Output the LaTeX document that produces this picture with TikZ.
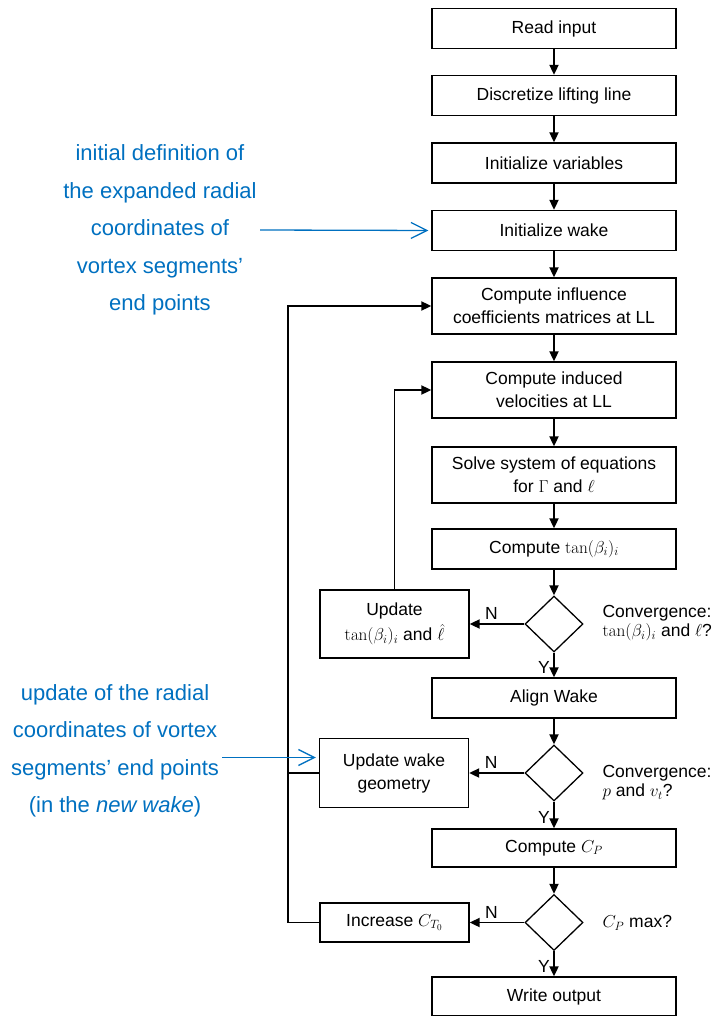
\documentclass[tikz,border=0pt]{standalone}
\usepackage[no-math]{fontspec}
\setmainfont{Liberation Sans}
\usetikzlibrary{positioning,arrows.meta,shapes.geometric}
\definecolor{noteblue}{RGB}{0,112,192}

\begin{document}
\begin{tikzpicture}[x=1pt,y=-1pt, every node/.style={font=\fontsize{17.5}{23}\selectfont},
    box/.style={draw,line width=1.3pt,minimum width=244pt,minimum height=40pt,align=center,inner sep=2pt},
    sidebox/.style={draw,line width=1.3pt,minimum width=149pt,align=center,inner sep=2pt},
    decision/.style={draw,diamond,line width=1.3pt,minimum width=58pt,minimum height=56pt,inner sep=0pt},
    flow/.style={-{Triangle[length=10pt,width=9pt]},line width=1.8pt},
    note/.style={font=\fontsize{22}{37.5}\selectfont,text=noteblue,align=center},
    notearrow/.style={-{Straight Barb[length=16pt,width=16pt,line width=1.3pt]},draw=noteblue,line width=1.3pt,shorten >=3pt}]
  \useasboundingbox (0,0) rectangle (718,1016);
  \node[box] at (554,28.5) (read) {Read input};
  \node[box] at (554,95.5) (lline) {Discretize lifting line};
  \node[box] at (554,163) (initvar) {Initialize variables};
  \node[box] at (554,230.5) (initwake) {Initialize wake};
  \node[box,minimum height=56pt] at (554,306) (infl) {Compute influence\\coefficients matrices at LL};
  \node[box,minimum height=56pt] at (554,390) (indvel) {Compute induced\\velocities at LL};
  \node[box,minimum height=56pt] at (554,475) (solve) {Solve system of equations\\for $\Gamma$ and $\ell$};
  \node[box] at (554,549) (tanb) {Compute $\tan(\beta_i)_i$};
  \node[decision] at (554,624) (convtan) {};
  \node[sidebox,minimum height=68pt,font=\fontsize{17.5}{25}\selectfont] at (394.5,624) (updtan) {Update\\$\tan(\beta_i)_i$ and $\hat{\ell}$};
  \node[box] at (554,698) (alignwake) {Align Wake};
  \node[decision] at (554,773) (convwake) {};
  \node[sidebox,minimum height=69pt] at (394,773) (updwake) {Update wake\\geometry};
  \node[box,minimum height=38pt] at (554,848) (cp) {Compute $C_P$};
  \node[decision] at (554,922.5) (cpmax) {};
  \node[sidebox,minimum height=39pt] at (394.5,922.5) (incct) {Increase $C_{T_0}$};
  \node[box,minimum height=39pt] at (554,996.5) (write) {Write output};

  \node[anchor=west,align=left,font=\fontsize{17.5}{19}\selectfont] at (599,623) (lbltan) {Convergence:\\$\tan(\beta_i)_i$ and $\ell$?};
  \node[anchor=west,align=left,font=\fontsize{17.5}{19}\selectfont] at (599,783) (lblwake) {Convergence:\\$p$ and $v_t$?};
  \node[anchor=west] at (599,923) (lblcp) {$C_P$ max?};

  \node[note] at (160,230) (notewake) {initial definition of\\the expanded radial\\coordinates of\\vortex segments'\\end points};
  \node[note] at (115,751) (noteupd) {update of the radial\\coordinates of vortex\\segments' end points\\(in the \textit{new wake})};

  \draw[flow] (read) -- (lline);
  \draw[flow] (lline) -- (initvar);
  \draw[flow] (initvar) -- (initwake);
  \draw[flow] (initwake) -- (infl);
  \draw[flow] (infl) -- (indvel);
  \draw[flow] (indvel) -- (solve);
  \draw[flow] (solve) -- (tanb);
  \draw[flow] (tanb) -- (convtan);
  \draw[flow] (convtan) -- node[above,pos=0.6]{N} (updtan);
  \draw[flow] (convtan) -- node[left,pos=0.6]{Y} (alignwake);
  \draw[flow] (updtan) |- (indvel);
  \draw[flow] (alignwake) -- (convwake);
  \draw[flow] (convwake) -- node[above,pos=0.6]{N} (updwake);
  \draw[flow] (convwake) -- node[left,pos=0.6]{Y} (cp);
  \draw[flow] (cp) -- (cpmax);
  \draw[flow] (cpmax) -- node[above,pos=0.6]{N} (incct);
  \draw[flow] (cpmax) -- node[left,pos=0.6]{Y} (write);

  \coordinate (loopturn) at (288,922.5);
  \draw[flow] (incct) -- (loopturn) |- (infl);
  \draw[line width=1.8pt] (updwake) -- (updwake -| loopturn);

  \coordinate (wakein) at ([yshift=15.5pt]updwake.west);
  \draw[notearrow] (notewake.east) -- (initwake.west);
  \draw[notearrow] (noteupd.east |- wakein) -- (wakein);
\end{tikzpicture}
\end{document}
